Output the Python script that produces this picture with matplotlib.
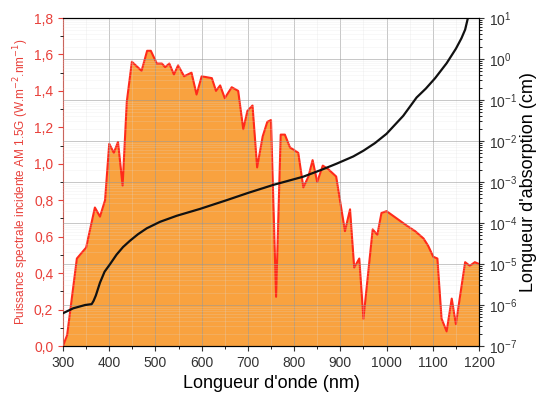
import matplotlib
matplotlib.use("Agg")
import matplotlib.pyplot as plt
from matplotlib.ticker import MultipleLocator, FuncFormatter, LogLocator

plt.rcParams['font.family'] = ['Liberation Sans', 'DejaVu Sans']

# AM 1.5G spectral irradiance (W.m-2.nm-1)
wl_sun = [300, 309, 330, 350, 369, 380, 391, 400, 410, 419, 429, 438, 449, 470, 482,
          490, 503, 514, 521, 530, 540, 549, 562, 578, 589, 600, 622, 631, 640, 650,
          665, 679, 690, 699, 710, 720, 732, 742, 750, 761, 771, 780, 791, 809, 820,
          831, 840, 850, 862, 874, 891, 910, 921, 930, 941, 950, 970, 980, 989, 1000,
          1022, 1044, 1062, 1080, 1090, 1101, 1110, 1119, 1130, 1141, 1150, 1170, 1180,
          1191, 1200]
irr = [0.0, 0.06, 0.48, 0.54, 0.76, 0.71, 0.80, 1.11, 1.06, 1.12, 0.88, 1.34, 1.56, 1.51, 1.62,
       1.62, 1.55, 1.55, 1.53, 1.55, 1.49, 1.54, 1.48, 1.50, 1.38, 1.48, 1.47, 1.40, 1.43, 1.36,
       1.42, 1.40, 1.19, 1.29, 1.32, 0.98, 1.15, 1.23, 1.24, 0.27, 1.16, 1.16, 1.09, 1.06, 0.87,
       0.93, 1.02, 0.90, 0.99, 0.97, 0.93, 0.63, 0.75, 0.43, 0.48, 0.15, 0.64, 0.61, 0.73, 0.74,
       0.70, 0.66, 0.63, 0.59, 0.55, 0.49, 0.48, 0.15, 0.08, 0.26, 0.12, 0.46, 0.44,
       0.46, 0.45]

# Absorption length of silicon (cm)
wl_abs = [300, 322, 348, 362, 366, 371, 380, 390, 402, 416, 430, 445, 462, 481, 510, 546,
          596, 654, 700, 755, 820, 860, 892, 928, 950, 975, 1000, 1036, 1065, 1085, 1105,
          1130, 1150, 1162, 1170, 1176]
abs_len = [6.3e-7, 8.3e-7, 1.0e-6, 1.05e-6, 1.25e-6, 1.7e-6, 3.5e-6, 6.5e-6, 1.0e-5, 1.7e-5,
           2.6e-5, 3.7e-5, 5.3e-5, 7.4e-5, 1.07e-4, 1.5e-4, 2.2e-4, 3.6e-4, 5.4e-4, 8.5e-4,
           1.35e-3, 2.0e-3, 2.8e-3, 4.2e-3, 5.8e-3, 8.9e-3, 1.5e-2, 4.1e-2, 0.115, 0.19, 0.34,
           0.79, 1.78, 3.2, 5.2, 10.0]

red = '#ff2a1a'
lab_red = '#e8403a'

fig = plt.figure(figsize=(5.39, 4.01), dpi=100)
ax = fig.add_axes([63/539, 55/401, 416/539, 328/401])
ax.fill_between(wl_sun, irr, 0, color='#f9a23f', lw=0)
ax.plot(wl_sun, irr, color=red, lw=1.5)
ax.set_xlim(300, 1200)
ax.set_ylim(0, 1.8)
ax.xaxis.set_major_locator(MultipleLocator(100))
ax.xaxis.set_minor_locator(MultipleLocator(50))
ax.yaxis.set_major_locator(MultipleLocator(0.2))
ax.yaxis.set_minor_locator(MultipleLocator(0.1))
ax.yaxis.set_major_formatter(FuncFormatter(lambda v, p: f"{v:.1f}".replace('.', ',')))
ax.tick_params(axis='y', colors=lab_red, labelsize=10)
ax.tick_params(axis='x', labelsize=10, colors='#333333')
ax.tick_params(which='both', direction='out')
ax.spines['left'].set_color(red)
ax.set_xlabel("Longueur d'onde (nm)", fontsize=13)
ax.set_ylabel("Puissance spectrale incidente AM 1.5G (W.m$^{-2}$.nm$^{-1}$)",
              color=lab_red, fontsize=8.5, labelpad=2)

ax2 = ax.twinx()
ax2.plot(wl_abs, abs_len, color='#111111', lw=1.6)
ax2.set_yscale('log')
ax2.set_ylim(1e-7, 1e1)
ax2.yaxis.set_major_locator(LogLocator(base=10, numticks=10))
ax2.yaxis.set_minor_locator(LogLocator(base=10, subs=range(2, 10), numticks=10))
ax2.tick_params(axis='y', labelsize=10, colors='#333333')
ax2.spines['left'].set_visible(False)
ax2.set_ylabel("Longueur d'absorption (cm)", fontsize=13, labelpad=2)
ax2.grid(True, which='major', color='#999999', lw=0.7, alpha=0.55)
ax2.grid(True, which='minor', color='#dddddd', lw=0.4, alpha=0.35)
ax.grid(True, axis='x', which='major', color='#999999', lw=0.7, alpha=0.55)
ax.grid(True, axis='x', which='minor', color='#dddddd', lw=0.4, alpha=0.45)
ax.set_axisbelow(False)

fig.savefig("out.png", dpi=100)
